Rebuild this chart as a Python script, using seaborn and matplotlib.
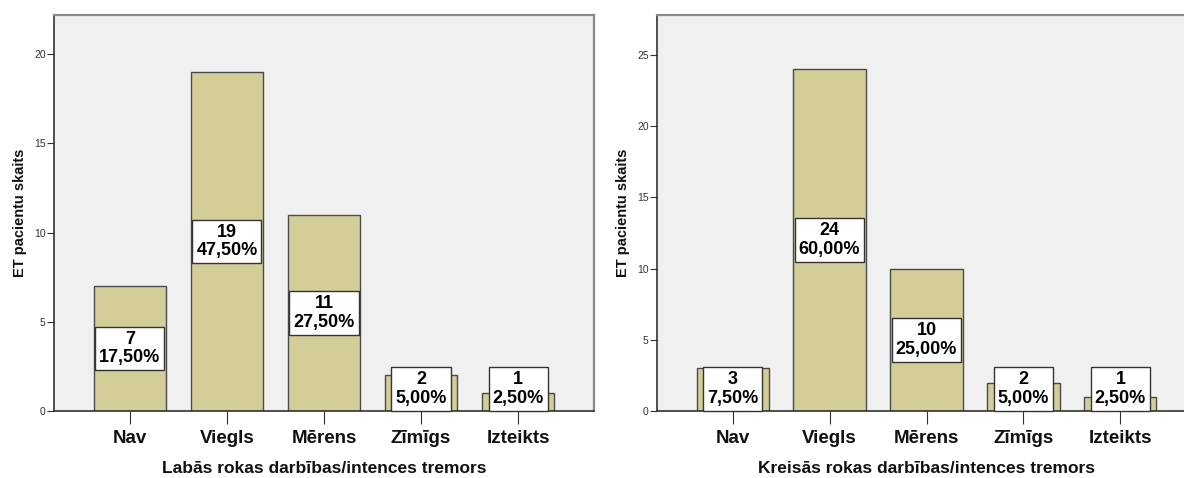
import matplotlib
matplotlib.use("Agg")
import matplotlib.pyplot as plt
import seaborn as sns
import pandas as pd

# Tremor severity categories and patient counts
categories = ["Nav", "Viegls", "Mērens", "Zīmīgs", "Izteikts"]
right_hand_counts = [7, 19, 11, 2, 1]
left_hand_counts = [3, 24, 10, 2, 1]
total_patients = 40

panels = [
    dict(counts=right_hand_counts, xlabel="Labās rokas darbības/intences tremors",
         ymax=22.2, yticks=[0, 5, 10, 15, 20]),
    dict(counts=left_hand_counts, xlabel="Kreisās rokas darbības/intences tremors",
         ymax=27.8, yticks=[0, 5, 10, 15, 20, 25]),
]

sns.set_theme(style="white")
plt.rcParams["font.family"] = ["Liberation Sans", "DejaVu Sans"]

W, H = 1184, 478
fig = plt.figure(figsize=(W / 100, H / 100), dpi=100)

BAR_COLOR = "#D3CE98"
BG_COLOR = "#F0F0F0"
EDGE = "#4A4A4A"

axes_px = [(54, 15, 540, 396), (657, 15, 539, 396)]

for (x0, y0, w, h), p in zip(axes_px, panels):
    ax = fig.add_axes([x0 / W, 1 - (y0 + h) / H, w / W, h / H])
    ax.set_facecolor(BG_COLOR)
    df = pd.DataFrame({"kategorija": categories, "skaits": p["counts"]})
    sns.barplot(data=df, x="kategorija", y="skaits", ax=ax, color=BAR_COLOR,
                saturation=1, width=0.745, edgecolor=EDGE, linewidth=1.0)
    ax.set_xlim(-0.78, 4.78)
    ax.set_ylim(0, p["ymax"])
    ax.set_yticks(p["yticks"])
    ax.set_yticklabels([str(t) for t in p["yticks"]], fontsize=7.5, color="#333333")
    ax.set_xticks(range(len(categories)))
    ax.set_xticklabels(categories, fontsize=13.5, fontweight="bold", color="#111111")
    ax.tick_params(axis="y", direction="out", length=5, width=0.8, color="#333333",
                   pad=1, left=True)
    ax.tick_params(axis="x", direction="out", length=9.5, width=0.8, color="#333333",
                   pad=4, bottom=True)
    ax.set_xlabel(p["xlabel"], fontsize=12.5, fontweight="bold", color="#111111",
                  labelpad=10)
    ax.set_ylabel("ET pacientu skaits", fontsize=10.5, fontweight="bold",
                  color="#111111", labelpad=5)
    for side in ["top", "right"]:
        ax.spines[side].set_color("#8A8A8A")
        ax.spines[side].set_linewidth(1.6)
    for side in ["left", "bottom"]:
        ax.spines[side].set_color("#333333")
        ax.spines[side].set_linewidth(1.2)

    # value / percentage boxes centred on each bar, kept above the baseline
    px_per_unit = h / p["ymax"]
    half_box = 22.0 / px_per_unit
    for i, v in enumerate(p["counts"]):
        pct = f"{v / total_patients * 100:.2f}".replace(".", ",") + "%"
        y = max(v / 2, half_box)
        ax.text(i, y, f"{v}\n{pct}", ha="center", va="center", fontsize=13,
                fontweight="bold", color="#000000", linespacing=1.12,
                bbox=dict(boxstyle="square,pad=0.22", fc="white", ec="#333333",
                          lw=1.0), zorder=5)

fig.savefig("out.png", dpi=100)
